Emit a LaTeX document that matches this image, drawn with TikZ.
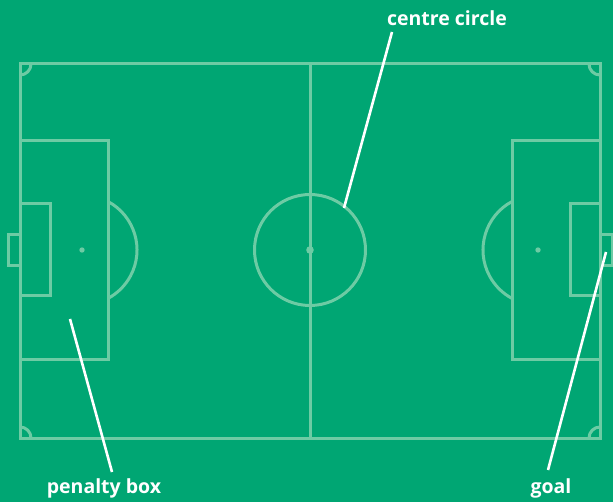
\documentclass[tikz,border=0pt]{standalone}
\usepackage{fontspec}
\setmainfont{Open Sans}
\definecolor{pitch}{HTML}{00A673}
\definecolor{chalk}{HTML}{6DCBA4}
\tikzset{
  mark line/.style={draw=chalk, line width=3pt},
  pointer/.style={draw=white, line width=2.6pt},
  lab/.style={text=white, font=\fontsize{19.5}{22}\selectfont\bfseries, inner sep=0pt},
}
\begin{document}
\begin{tikzpicture}[x=1pt,y=-1pt]
\fill[pitch] (0,0) rectangle (613,502);
\useasboundingbox (0,0) rectangle (613,502);
% outer field
\draw[mark line] (20,64) rectangle (600,438);
\draw[mark line] (310,64) -- (310,438);
% centre circle
\coordinate (cc) at (310,250);
\draw[mark line] (cc) circle[radius=55.5];
\fill[chalk] (cc) circle[radius=3.8];
% left side
\draw[mark line] (20,141) rectangle (108,360);
\draw[mark line] (20,204) rectangle (50,296);
\draw[mark line] (20,235) -- (8,235) -- (8,266) -- (20,266);
\fill[chalk] (82,250) circle[radius=2.7];
\draw[mark line] (108,201.5) arc[start angle=-61.8, end angle=61.8, radius=55];
% right side
\draw[mark line] (512,141) rectangle (600,360);
\draw[mark line] (570,204) rectangle (600,296);
\draw[mark line] (600,235) -- (612,235) -- (612,266) -- (600,266);
\fill[chalk] (538,250) circle[radius=2.7];
\draw[mark line] (512,201.5) arc[start angle=241.8, end angle=118.2, radius=55];
% corner arcs
\draw[mark line] (31,64) arc[start angle=0, end angle=90, radius=11];
\draw[mark line] (589,64) arc[start angle=180, end angle=90, radius=11];
\draw[mark line] (31,438) arc[start angle=0, end angle=-90, radius=11];
\draw[mark line] (589,438) arc[start angle=180, end angle=270, radius=11];
% labels
\node[lab] (lcc) at (447,18) {centre circle};
\node[lab] (lpb) at (104,488) {penalty box};
\node[lab] (lg) at (551,488) {goal};
\coordinate (pcc) at (344,208);
\coordinate (ppb) at (70,319);
\coordinate (pg) at (606,252);
\draw[pointer] (392,32) -- (pcc);
\draw[pointer] (112,472) -- (ppb);
\draw[pointer] (548,470) -- (pg);
\end{tikzpicture}
\end{document}
